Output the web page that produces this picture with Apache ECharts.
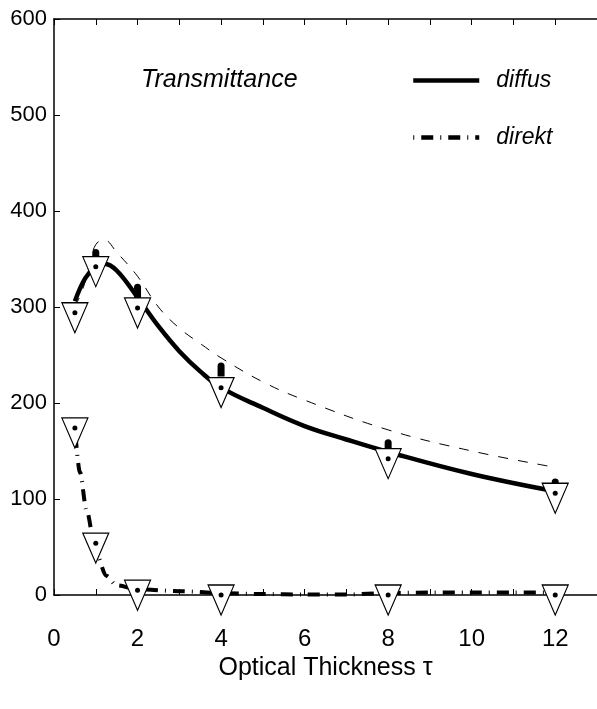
<!DOCTYPE html>
<html>
<head>
<meta charset="utf-8">
<script src="https://cdn.jsdelivr.net/npm/echarts@6/dist/echarts.min.js"></script>
<style>
  html, body { margin: 0; padding: 0; background: #fff; }
  #chart { width: 597px; height: 709px; }
</style>
</head>
<body>
<div id="chart"></div>
<script>
// measured points (triangles with centre dot)
const tauMeas = [0.5, 1, 2, 4, 8, 12];
const diffusMeas = [294, 342, 299, 216, 142, 106];
const direktMeas = [174, 54, 5, 0, 0, 0];
// black blobs above the triangles
const blobMeas = [null, 353, 317, 235, 155, 114];

// fitted curves
const diffusTau = [0.5, 0.75, 1, 1.2, 1.5, 2, 2.5, 3, 3.5, 4, 5, 6, 7, 8, 10, 12];
const diffusFit = [306, 330, 342, 345, 338, 310, 280, 254, 233, 216, 195, 176, 162, 149, 126, 108];

const direktTau = [0.5, 0.62, 0.78, 1, 1.25, 1.5, 2, 3, 4, 5, 6, 7, 8, 9, 10, 11, 12];
const direktFit = [174, 128, 88, 45, 20, 10, 6, 4, 2, 1, 0.5, 0.5, 2, 2.5, 2.5, 2.5, 2.5];

// thin dashed curve
const modelTau = [0.5, 0.7, 0.85, 1, 1.2, 1.5, 2, 2.5, 3, 3.5, 4, 5, 6, 8, 10, 12];
const modelFit = [300, 320, 345, 365, 370, 357, 332, 300, 278, 262, 247, 222, 203, 172, 150, 133];

const xLabelVals = [0, 2, 4, 6, 8, 10, 12];

const FONT = '"Liberation Sans", Arial, sans-serif';

const zip = (xs, ys) => xs.map((x, i) => [x, ys[i]]);

const chart = echarts.init(document.getElementById('chart'));

const axisCommon = {
  axisLine: { show: true, lineStyle: { color: '#000', width: 1.5 } },
  axisTick: { show: true, inside: true, length: 6, lineStyle: { color: '#000', width: 1 } },
  splitLine: { show: false },
};

const triangle = 'path://M0,0L26,0L13,30Z';

chart.setOption({
  animation: false,
  backgroundColor: '#fff',
  grid: { left: 54, right: 0, top: 19, bottom: 114, outerBoundsMode: 'none' },
  title: {
    text: 'Transmittance',
    left: 136,
    top: 63,
    textStyle: { fontFamily: FONT, fontStyle: 'italic', fontWeight: 'normal', fontSize: 25, color: '#000' },
  },
  legend: {
    orient: 'vertical',
    left: 406,
    top: 64,
    itemWidth: 66,
    itemHeight: 14,
    itemGap: 34,
    data: ['diffus', 'direkt'],
    itemStyle: { opacity: 0 },
    lineStyle: { width: 4.5 },
    textStyle: { fontFamily: FONT, fontStyle: 'italic', fontSize: 23, color: '#000', padding: [0, 0, 0, 12] },
  },
  xAxis: [
    {
      type: 'value',
      min: 0,
      max: 13,
      interval: 1,
      position: 'bottom',
      ...axisCommon,
      axisLabel: {
        fontFamily: FONT,
        fontSize: 24,
        color: '#000',
        margin: 32,
        formatter: (v) => (xLabelVals.includes(v) ? String(v) : ''),
      },
      name: 'Optical Thickness τ',
      nameLocation: 'middle',
      nameGap: 60,
      nameTextStyle: { fontFamily: FONT, fontSize: 25, color: '#000' },
    },
    {
      type: 'value',
      min: 0,
      max: 13,
      interval: 1,
      position: 'top',
      ...axisCommon,
      axisLabel: { show: false },
    },
  ],
  yAxis: {
    type: 'value',
    min: 0,
    max: 600,
    interval: 100,
    ...axisCommon,
    axisLabel: { fontFamily: FONT, fontSize: 22, color: '#000', margin: 7 },
  },
  series: [
    {
      name: 'diffus',
      type: 'line',
      data: zip(diffusTau, diffusFit),
      smooth: 0.4,
      symbol: 'none',
      itemStyle: { color: '#000' },
      lineStyle: { color: '#000', width: 4.5 },
      z: 2,
    },
    {
      name: 'direkt',
      type: 'line',
      data: zip(direktTau, direktFit),
      smooth: 0.3,
      smoothMonotone: 'x',
      symbol: 'none',
      itemStyle: { color: '#000' },
      lineStyle: { color: '#000', width: 4, type: [1, 7, 12, 7] },
      z: 2,
    },
    {
      name: 'model',
      type: 'line',
      data: zip(modelTau, modelFit),
      smooth: 0.4,
      symbol: 'none',
      lineStyle: { color: '#000', width: 1, type: [10, 10] },
      z: 2,
    },
    {
      name: 'blobs',
      type: 'scatter',
      data: zip(tauMeas, blobMeas).filter((p) => p[1] !== null),
      symbol: 'path://M0,3.5A3.5,3.5 0 0 1 7,3.5L7,14L0,14Z',
      symbolSize: [7, 14],
      itemStyle: { color: '#000', opacity: 1 },
      clip: false,
      z: 3,
    },
    {
      name: 'diffusTri',
      type: 'scatter',
      data: zip(tauMeas, diffusMeas),
      symbol: triangle,
      symbolSize: [26, 30],
      symbolOffset: [0, 5],
      itemStyle: { color: '#fff', borderColor: '#000', borderWidth: 1.2, opacity: 1 },
      clip: false,
      z: 4,
    },
    {
      name: 'direktTri',
      type: 'scatter',
      data: zip(tauMeas, direktMeas),
      symbol: triangle,
      symbolSize: [26, 30],
      symbolOffset: [0, 5],
      itemStyle: { color: '#fff', borderColor: '#000', borderWidth: 1.2, opacity: 1 },
      clip: false,
      z: 4,
    },
    {
      name: 'dots',
      type: 'scatter',
      data: zip(tauMeas, diffusMeas).concat(zip(tauMeas, direktMeas)),
      symbol: 'circle',
      symbolSize: 5,
      itemStyle: { color: '#000', opacity: 1 },
      clip: false,
      z: 5,
    },
  ],
});
</script>
</body>
</html>
